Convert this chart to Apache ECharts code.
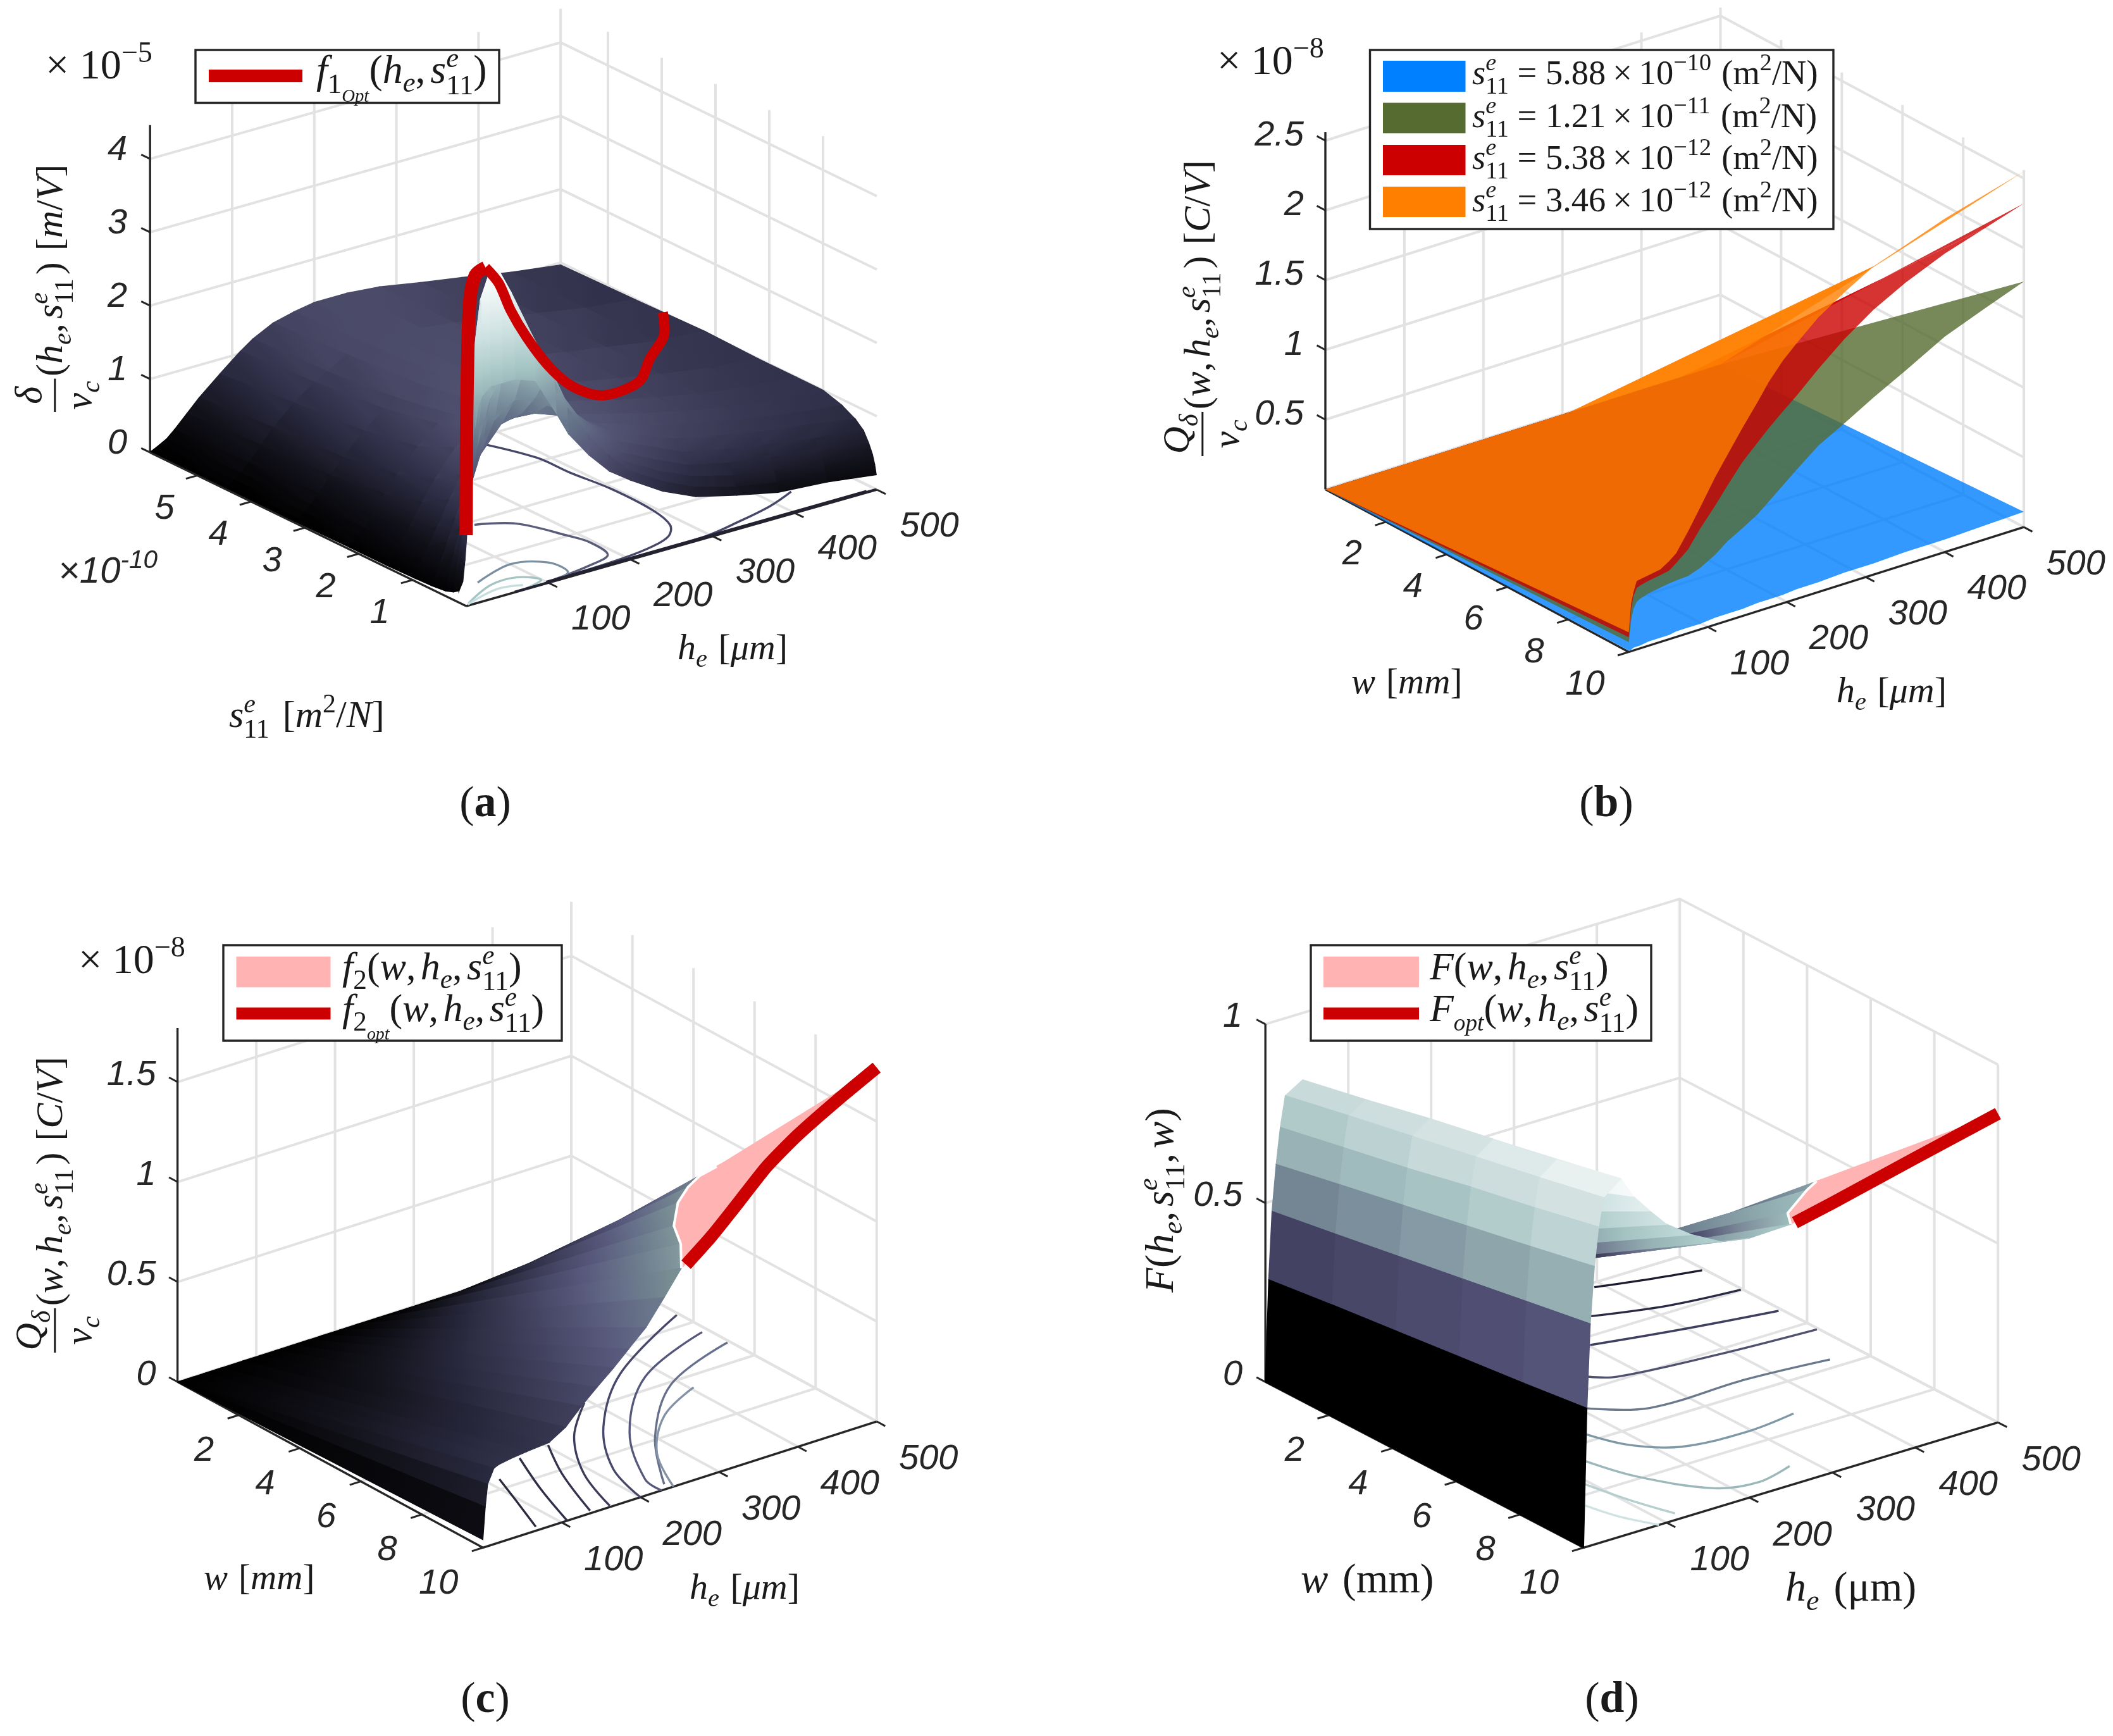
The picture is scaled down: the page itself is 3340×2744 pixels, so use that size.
<!DOCTYPE html>
<html><head><meta charset="utf-8">
<style>html,body{margin:0;padding:0;background:#fff}#c{width:3340px;height:2744px}</style>
<script src="https://cdn.jsdelivr.net/npm/echarts@6/dist/echarts.min.js"></script>
</head><body><div id="c"></div>
<script>
/* ---------- panel (a) values ---------- */
const aHeTicks=[100,200,300,400,500], aHeLabels=['100','200','300','400','500'];
const aSTicks=[1,2,3,4,5], aSLabels=['1','2','3','4','5'];
const aZTicks=[0,1,2,3,4], aZLabels=['0','1','2','3','4'];
const aHe=[1,5,12,20,30,45,60,85,110,125,150,175,200,240,280,330,380,440,500];
const aS=[5.88,4.5,3.2,2.2,1.5,1.0,0.65,0.4,0.25,0.15,0.08,0.04,0.01];
const aZ=[
[.01,.03,.07,.12,.22,.39,.56,.8,1.03,1.15,1.29,1.36,1.41,1.41,1.37,1.27,1.18,1.06,.97],
[.01,.03,.08,.15,.26,.45,.64,.9,1.1,1.2,1.35,1.41,1.43,1.42,1.37,1.27,1.18,1.06,.99],
[.01,.04,.1,.18,.3,.5,.7,.98,1.2,1.3,1.42,1.47,1.48,1.44,1.37,1.27,1.18,1.07,1.02],
[.02,.05,.13,.22,.36,.6,.82,1.12,1.35,1.44,1.55,1.57,1.55,1.48,1.38,1.27,1.17,1.06,1.0],
[.02,.07,.17,.3,.46,.74,1.0,1.35,1.55,1.62,1.68,1.65,1.6,1.5,1.38,1.26,1.15,1.05,1.0],
[.03,.1,.24,.4,.62,.95,1.25,1.62,1.8,1.82,1.8,1.72,1.62,1.5,1.38,1.25,1.14,1.04,1.0],
[.04,.15,.35,.58,.88,1.3,1.65,1.98,2.05,2.0,1.9,1.77,1.62,1.48,1.34,1.22,1.1,1.0,.92],
[.06,.25,.55,.9,1.35,1.85,2.2,2.4,2.35,2.2,2.0,1.8,1.6,1.42,1.25,1.13,1.02,.93,.82],
[.1,.4,.9,1.4,2.0,2.6,2.85,2.85,2.6,2.35,2.05,1.77,1.52,1.32,1.12,1.0,.9,.8,.72],
[.15,.7,1.5,2.3,3.0,3.4,3.5,3.2,2.75,2.4,2.0,1.68,1.4,1.18,.98,.85,.76,.66,.58],
[.3,1.4,2.7,3.6,4.3,4.4,4.05,3.4,2.8,2.4,1.95,1.6,1.3,1.05,.85,.7,.6,.5,.45],
[.6,2.0,3.4,4.1,4.4,4.2,3.8,3.3,2.7,2.3,1.85,1.5,1.2,.93,.72,.56,.46,.38,.33],
[.9,1.9,2.6,2.8,2.9,2.9,2.9,2.8,2.28,1.95,1.58,1.28,1.08,.8,.6,.46,.34,.29,.2]];
const aOptHe=[.5,1,2,6,15,28,46,62,84,125,170,215,260,310,360,420,470,500];
const aOptS=[.01,.015,.02,.03,.06,.07,.1,.12,.16,.4,.7,1,1.4,1.8,2.25,3,3.5,3.98];
const aOptZ=[.96,1.53,2.67,4.09,4.44,4.5,4.22,3.79,3.34,2.75,2.24,1.86,1.55,1.32,1.14,.97,.95,1.0];
const aContourHe=[[266,289,291,297,295,285,267,239,195,120],[431,392,342,296,200],[135,169,190,196,190,160,110],[46,100,132,132,104],[6,52,84,99,71],[4,51,77],[60,500],[100,490]];
const aContourS=[[3.9,3.11,2.52,1.83,1.03,.56,.31,.17,.08,.03],[.54,.335,.17,.05,.02],[1.91,1.65,.99,.69,.27,.14,.04],[.49,.71,.49,.125,.01],[.05,.34,.35,.12,.01],[.03,.2,.12],[.015,.015],[.04,.04]];
/* ---------- panel (b) values ---------- */
const bHeTicks=[100,200,300,400,500], bHeLabels=['100','200','300','400','500'];
const bWTicks=[2,4,6,8,10], bWLabels=['2','4','6','8','10'];
const bZTicks=[.5,1,1.5,2,2.5], bZLabels=['0.5','1','1.5','2','2.5'];
const bHe=[0,3,6,10,14,25,40,51,60,75,90,109,125,144,163,177,195,212,240,273,310,350,400,450,500];
const bBlue=[.01,.01,.02,.02,.02,.03,.03,.03,.04,.04,.04,.05,.05,.05,.06,.06,.06,.07,.07,.08,.08,.09,.09,.1,.11];
const bGreen=[.07,.22,.3,.34,.355,.375,.39,.4,.405,.41,.44,.5,.57,.63,.695,.76,.845,.925,1.05,1.151,1.27,1.39,1.545,1.655,1.76];
const bRed=[.105,.3,.39,.44,.45,.465,.48,.492,.53,.6,.72,.85,.97,1.105,1.21,1.286,1.375,1.455,1.6,1.755,1.9,2.02,2.14,2.23,2.32];
const bOrange=[.14,.34,.42,.49,.495,.505,.52,.56,.6,.73,.87,1.054,1.19,1.35,1.5,1.617,1.74,1.83,1.97,2.09,2.21,2.29,2.39,2.47,2.55];
/* ---------- panel (c) values ---------- */
const cHeTicks=[100,200,300,400,500], cHeLabels=['100','200','300','400','500'];
const cWTicks=[2,4,6,8,10], cWLabels=['2','4','6','8','10'];
const cZTicks=[0,.5,1,1.5], cZLabels=['0','0.5','1','1.5'];
const cHe=[0,3,6,14,20,34,55,84,105,125,145,166,185,207,230,252,290,320,360,400,450,500];
const cZ10=[.04,.2,.31,.38,.39,.40,.41,.42,.47,.55,.62,.69,.76,.84,.96,1.08,1.19,1.30,1.45,1.56,1.67,1.77];
const cEdgeW=[10,10,10,10,10,10,10,10,10,10,10,10,10,10,10,10,9,8,7.1,6.4,5.5,4.76];
const cEdgeZ=[.04,.2,.31,.38,.39,.40,.41,.42,.47,.55,.62,.69,.76,.84,.96,1.08,1.07,1.04,1.03,1.0,.92,.84];
const cOptHe=[258,290,320,360,400,450,500];
const cOptZ=[1.09,1.19,1.30,1.45,1.56,1.67,1.77];
const cContourHe=[[114,96,73],[161,132,107],[203,171,140],[294,236,189,163],[497,365,274,220,200],[492,381,287,230,227],[497,390,300,238],[404,339,278,242],[497,426]];
const cContourW=[[7.6,8.6,9.85],[7.05,8.5,10],[6.9,8.2,9.9],[5.74,6.9,8.44,9.95],[3.53,5.08,6.88,8.59,10],[4.49,5.49,7.4,9.38,10],[5.19,6.1,7.9,9.8],[6.48,7.2,8.53,10],[2.9,3.48]];
/* ---------- panel (d) values ---------- */
const dHeTicks=[100,200,300,400,500], dHeLabels=['100','200','300','400','500'];
const dWTicks=[2,4,6,8,10], dWLabels=['2','4','6','8','10'];
const dZTicks=[0,.5,1], dZLabels=['0','0.5','1'];
const dWallHe=[0,4,8,13,18,24,45];
const dWallW=[0,2,4,6,8,10];
const dWallZ=[
[0,.283,.471,.599,.699,.783,.813],
[0,.305,.50,.635,.735,.82,.85],
[0,.325,.53,.67,.77,.855,.89],
[0,.345,.56,.705,.81,.89,.925],
[0,.365,.59,.74,.845,.925,.96],
[0,.387,.62,.777,.884,.962,1.0]];
const dHe=[45,60,80,100,130,165,200,250,300,400,500];
const dZ0=[.81,.6,.42,.32,.25,.19,.15,.12,.10,.08,.07];
const dZ10=[1.0,.94,.885,.834,.784,.74,.725,.729,.753,.809,.863];
const dEdgeW=[10,10,10,10,10,10,10,10,8.6,6.6,4.3];
const dEdgeZ=[1.0,.94,.885,.834,.784,.74,.725,.729,.66,.562,.41];
const dOptHe=[255,300,400,500];
const dOptZ=[.73,.753,.809,.863];
const dContourHe=[[390,444,497],[345,420,498],[302,395,496],[254,276,381,498],[206,255,371,464],[168,186,223,294,357],[128,145,187,230,277],[94,105,120],[63,72,91]];
const dContourW=[[.18,.51,.78],[1.25,1.74,1.97],[2.34,2.8,3.21],[3.52,3.86,4.17,4.36],[4.7,5.43,5.45,5.66],[5.7,6.62,7.28,7.46,7.3],[6.7,7.9,9.24,9.52,9.26],[7.6,8.73,9.75],[8.41,9.18,10]];

/* ---------- styles ---------- */
const aColours=[[0,'#000000'],[.4,'#101018'],[.96,'#30304a'],[1.4,'#4a4a68'],[1.7,'#585b7a'],[2.1,'#66758a'],[2.5,'#7f96a2'],[3.0,'#a5c4c4'],[3.6,'#cfe2e2'],[4.4,'#ffffff']];
const cColours=[[0,'#000000'],[.15,'#0f0f16'],[.35,'#2a2a40'],[.55,'#444462'],[.7,'#56567a'],[.85,'#66708a'],[1,'#75898f'],[1.1,'#87a0a3']];
const dColours=[[0,'#000000'],[.1,'#1a1a28'],[.25,'#3a3855'],[.38,'#55557a'],[.47,'#6f7f90'],[.6,'#95aeb2'],[.7,'#aac6c6'],[.78,'#c5d8d8'],[.88,'#d5e3e3'],[.96,'#eef4f4'],[1,'#ffffff']];
const dSheetColours=[[0,'#000000'],[.40,'#0a0a10'],[.46,'#2a2a40'],[.52,'#55507a'],[.6,'#7c8c9a'],[.68,'#9ab8b8'],[.76,'#aecdcc'],[.86,'#cfe2e2'],[1,'#ffffff']];
const dFarColours=[[0,'#3d3d5a'],[.2,'#50527a'],[.35,'#6a7a8c'],[.5,'#8aa3aa'],[.65,'#9fbfbf'],[.8,'#a8c8c8']];
const aContourColours=['#47476a','#47476a','#5a5d7a','#7c8fa0','#a5c4c4','#c8dede','#222230','#222230'];
const cContourColours=['#2b2b40','#2f2f48','#33334e','#3d3d5a','#47476a','#55587a','#66708a','#8393a5','#47476a'];
const dContourColours=['#1c1c30','#2a2a45','#3f3f60','#50506f','#6a7a8c','#7f98a5','#9cb8bb','#b5cfcf','#d0e2e2'];
const GRID='#e2e2e2', AXIS='#262626', RED='#cc0000', PINK='#ffb3b3';

/* ---------- orthographic views of the four boxes ---------- */
const views=[
 {ox:737,oy:958,hx:1.298,hy:-.368,bx:-85.0,by:-41.3,zy:-116,heMax:500,bBack:5.88,bFront:0,zTop:4.46},
 {ox:2095,oy:773.5,hx:1.249,hy:-.3947,bx:47.96,by:25.7,zy:-220.5,heMax:500,bBack:0,bFront:10,zTop:2.56},
 {ox:280.6,oy:2184.3,hx:1.245,hy:-.399,bx:48.27,by:26.2,zy:-316,heMax:500,bBack:0,bFront:10,zTop:1.77},
 {ox:2000.2,oy:2184.3,hx:1.310,hy:-.396,bx:50.3,by:26.2,zy:-565.5,heMax:500,bBack:0,bFront:10,zTop:1.0}
];
const proj=(v,q)=>[v.ox+v.hx*q[0]+v.bx*q[1], v.oy+v.hy*q[0]+v.by*q[1]+v.zy*q[2]];
const quad=[[0,1670,0,1372],[1670,3340,0,1372],[0,1670,1372,2744],[1670,3340,1372,2744]];

function hex(c){return [parseInt(c.slice(1,3),16),parseInt(c.slice(3,5),16),parseInt(c.slice(5,7),16)];}
function cmap(st,z){
  if(z<=st[0][0])return st[0][1];
  for(let i=1;i<st.length;i++){ if(z<=st[i][0]){
    const t=(z-st[i-1][0])/(st[i][0]-st[i-1][0]),a=hex(st[i-1][1]),b=hex(st[i][1]);
    return 'rgb('+a.map((v,k)=>Math.round(v+(b[k]-v)*t)).join(',')+')';}}
  return st[st.length-1][1];
}
function gradient(p0,p1,z0,z1,st){
  const n=6,stops=[];
  for(let k=0;k<=n;k++)stops.push({offset:k/n,color:cmap(st,z0+(z1-z0)*k/n)});
  return new echarts.graphic.LinearGradient(p0[0],p0[1],p1[0]+.01,p1[1]+.01,stops,true);
}
const mean=(pts,ix)=>[ix.reduce((s,i)=>s+pts[i][0],0)/ix.length, ix.reduce((s,i)=>s+pts[i][1],0)/ix.length];

function draw(it,api){
  const pts=it.pts.map(q=>api.coord(proj(it.v,q)));
  if(it.kind==='text'){
    return {type:'text',x:pts[0][0]+it.dx,y:pts[0][1]+it.dy,style:{text:it.text,font:'italic 56px "Liberation Sans"',fill:AXIS,
      align:it.align,textAlign:it.align,verticalAlign:'middle',textVerticalAlign:'middle'}};
  }
  if(it.kind==='line'){
    return {type:'polyline',shape:{points:pts,smooth:it.smooth||0},style:{stroke:it.color,lineWidth:it.width,fill:null,lineJoin:it.join||'round',lineCap:it.cap||'butt'}};
  }
  if(it.kind==='path'){
    let d='';
    for(let i=0;i<pts.length;i+=4){
      d+='M'+pts[i][0].toFixed(1)+' '+pts[i][1].toFixed(1);
      for(let k=1;k<4;k++)d+='L'+pts[i+k][0].toFixed(1)+' '+pts[i+k][1].toFixed(1);
      d+='Z';
    }
    return {type:'path',shape:{pathData:d},style:{fill:it.color}};
  }
  let fill=it.color;
  if(it.grad)fill=gradient(mean(pts,it.grad.from),mean(pts,it.grad.to),it.grad.z0,it.grad.z1,it.grad.st);
  return {type:'polygon',shape:{points:pts},style:{fill:fill,stroke:fill,lineWidth:1.4}};
}
function layer(i,items){
  const v=views[i];
  items.forEach(it=>it.v=v);
  return {type:'custom',coordinateSystem:'cartesian2d',xAxisIndex:i,yAxisIndex:i,silent:true,animation:false,clip:false,
    progressive:0,
    data:items.map(it=>proj(v,it.pts[0])),encode:{x:0,y:1},
    renderItem:(p,api)=>draw(items[p.dataIndex],api)};
}
function frame(i,heT,bT,zT){
  const v=views[i],H=v.heMax,B=v.bBack,F=v.bFront,T=v.zTop,out=[];
  const g=(pts)=>out.push({kind:'line',pts,color:GRID,width:4,join:'miter'});
  const k=(pts,w)=>out.push({kind:'line',pts,color:AXIS,width:w||3.4,join:'miter'});
  zT.forEach(z=>g([[0,B,z],[H,B,z],[H,F,z]]));
  g([[0,B,0],[H,B,0],[H,F,0]]);
  heT.forEach(h=>{g([[h,B,0],[h,B,T]]);g([[h,B,0],[h,F,0]]);});
  bT.forEach(b=>{g([[H,b,0],[H,b,T]]);g([[0,b,0],[H,b,0]]);});
  k([[0,B,0],[0,B,T]]);
  k([[0,B,0],[0,F,0]]);
  k([[0,F,0],[H,F,0]]);
  const over=(F-B)*.028;
  heT.forEach(h=>k([[h,F,0],[h,F+over,0]],3));
  bT.forEach(b=>k([[0,b,0],[-H*.028,b,0]],3));
  zT.forEach(z=>k([[0,B,z],[0,B-over,z]],3));
  return out;
}
function ticks(i,heT,heL,heOff,bT,bL,bOff,zT,zL,zOff){
  const v=views[i],out=[];
  heT.forEach((h,n)=>out.push({kind:'text',pts:[[h,v.bFront,0]],text:heL[n],dx:heOff[0],dy:heOff[1],align:'center'}));
  bT.forEach((b,n)=>out.push({kind:'text',pts:[[0,b,0]],text:bL[n],dx:bOff[0],dy:bOff[1],align:bOff[2]}));
  zT.forEach((z,n)=>out.push({kind:'text',pts:[[0,v.bBack,z]],text:zL[n],dx:zOff[0],dy:zOff[1],align:'right'}));
  return out;
}
function contours(He,B,Cols,w){
  return He.map((h,n)=>({kind:'line',pts:h.map((x,k)=>[x,B[n][k],0]),color:Cols[n],width:w,smooth:.35}));
}
function aSurface(){
  const out=[];
  for(let r=0;r<aS.length-1;r++)for(let c=aHe.length-2;c>=0;c--){
    const z=[aZ[r][c],aZ[r][c+1],aZ[r+1][c+1],aZ[r+1][c]];
    const pts=[[aHe[c],aS[r],z[0]],[aHe[c+1],aS[r],z[1]],[aHe[c+1],aS[r+1],z[2]],[aHe[c],aS[r+1],z[3]]];
    const dH=Math.abs(z[1]+z[2]-z[0]-z[3]),dS=Math.abs(z[3]+z[2]-z[0]-z[1]);
    const grad=dH>=dS?{from:[0,3],to:[1,2],z0:(z[0]+z[3])/2,z1:(z[1]+z[2])/2,st:aColours}
                     :{from:[0,1],to:[3,2],z0:(z[0]+z[1])/2,z1:(z[2]+z[3])/2,st:aColours};
    out.push({kind:'poly',pts,grad});
  }
  return out;
}
function bSurface(v,profile,colour){
  const groups=[[],[]];
  for(let i=0;i<bHe.length-1;i++){
    const ring=[[bHe[i],0,0],[bHe[i+1],0,0],[bHe[i+1],10,profile[i+1]],[bHe[i],10,profile[i]]];
    const p=ring.map(q=>proj(v,q));
    let a=0;for(let k=0;k<4;k++){const n=(k+1)%4;a+=p[k][0]*p[n][1]-p[n][0]*p[k][1];}
    groups[a>0?0:1].push(...ring);
  }
  return groups.filter(g=>g.length).map(g=>({kind:'path',pts:g,color:colour}));
}
function hingeSurface(He,Z0,EdgeW,EdgeZ,Z10,St,FarSt,farFrom){
  const out=[];
  for(let i=He.length-2;i>=0;i--){
    const z0=(Z0[i]+Z0[i+1])/2,z1=(EdgeZ[i]+EdgeZ[i+1])/2;
    const st=(FarSt&&He[i]>=farFrom)?FarSt:St;
    out.push({kind:'poly',pts:[[He[i],0,Z0[i]],[He[i+1],0,Z0[i+1]],[He[i+1],EdgeW[i+1],EdgeZ[i+1]],[He[i],EdgeW[i],EdgeZ[i]]],
      grad:{from:[0,1],to:[3,2],z0,z1,st}});
    if(EdgeW[i]<10||EdgeW[i+1]<10){
      out.push({kind:'poly',pts:[[He[i],EdgeW[i],EdgeZ[i]],[He[i+1],EdgeW[i+1],EdgeZ[i+1]],[He[i+1],10,Z10[i+1]],[He[i],10,Z10[i]]],color:PINK});
    }
  }
  return out;
}
function edgeLine(He,EdgeW,EdgeZ){
  const pts=[];He.forEach((h,i)=>{if(EdgeW[i]<10||(EdgeW[i+1]!==undefined&&EdgeW[i+1]<10))pts.push([h,EdgeW[i],EdgeZ[i]]);});
  return {kind:'line',pts,color:'#ffffff',width:4};
}
function dWall(){
  const out=[];
  for(let c=dWallHe.length-2;c>=0;c--)for(let r=0;r<dWallW.length-1;r++){
    const z=[dWallZ[r][c],dWallZ[r][c+1],dWallZ[r+1][c+1],dWallZ[r+1][c]];
    out.push({kind:'poly',pts:[[dWallHe[c],dWallW[r],z[0]],[dWallHe[c+1],dWallW[r],z[1]],[dWallHe[c+1],dWallW[r+1],z[2]],[dWallHe[c],dWallW[r+1],z[3]]],
      color:cmap(dColours,(z[0]+z[3])/2)});
  }
  return out;
}
const zeros=n=>new Array(n).fill(0);

/* ---------- math text ---------- */
const mctx=document.createElement('canvas').getContext('2d');
const SERIF='"Liberation Serif"';
const i_=(t,o)=>Object.assign({t,st:'i'},o||{});
const r_=(t,o)=>Object.assign({t,st:'r'},o||{});
const sb=(t,st)=>({t,st:st||'i',k:.7,dy:.2});
const sp=(t,st)=>({t,st:st||'r',k:.7,dy:-.42});
const gap=g=>({gap:g});
const s11=()=>[i_('s'),{stack:['e','11']}];
function build(segs,size,baseY,color,font){
  const kids=[];let cx=0;
  const put=(t,st,sz,x,by)=>{
    const f=(st==='i'?'italic ':st==='b'?'bold ':'')+sz+'px '+(font||SERIF);
    kids.push({type:'text',x:x,y:by-.34*sz,z:60,silent:true,style:{text:t,font:f,fill:color||'#1a1a1a',align:'left',textAlign:'left',verticalAlign:'middle',textVerticalAlign:'middle'}});
    mctx.font=f;return mctx.measureText(t).width;
  };
  segs.flat().forEach(s=>{
    if(s.gap!==undefined){cx+=s.gap*size;return;}
    if(s.stack){
      const a=put(s.stack[0],'i',size*.7,cx,baseY-.42*size);
      const b=put(s.stack[1],'r',size*.7,cx,baseY+.25*size);
      cx+=Math.max(a,b);return;
    }
    if(s.frac){
      const n=build(s.frac[0],size,baseY-.55*size,color,font),d=build(s.frac[1],size,baseY+.76*size,color,font);
      const w=Math.max(n.width,d.width)+.12*size;
      n.kids.forEach(e=>{e.x+=cx+(w-n.width)/2;kids.push(e);});
      d.kids.forEach(e=>{e.x+=cx+(w-d.width)/2;kids.push(e);});
      kids.push({type:'rect',z:60,silent:true,shape:{x:cx,y:baseY-.27*size-1.5,width:w,height:3},style:{fill:color||'#1a1a1a'}});
      cx+=w+.06*size;return;
    }
    const sz=size*(s.k||1);
    cx+=put(s.t,s.st,sz,cx,baseY+(s.dy||0)*size);
  });
  return {kids,width:cx};
}
function mtext(x,y,segs,size,opt){
  opt=opt||{};
  const b=build(segs,size,0,opt.color,opt.font);
  const off=opt.center?-b.width/2:0;
  b.kids.forEach(e=>{e.x+=off;});
  return {type:'group',x,y,rotation:opt.rot||0,children:b.kids,silent:true};
}
const UP=Math.PI/2;
const rect=(x,y,w,h,fill,stroke)=>({type:'rect',z:58,silent:true,shape:{x,y,width:w,height:h},style:{fill,stroke:stroke||null,lineWidth:stroke?3.4:0}});
const he=()=>[i_('h'),sb('e')];
const comma=()=>[r_(','),gap(.12)];
const MUL=66,AX=58,YL=60,LG=63;

const graphics=[
  /* multipliers */
  mtext(72,129,[r_('×'),gap(.25),r_('10'),sp('−5')],MUL),
  mtext(1924,122,[r_('×'),gap(.25),r_('10'),sp('−8')],MUL),
  mtext(124,1543,[r_('×'),gap(.25),r_('10'),sp('−8')],MUL),
  mtext(92,925,[i_('×10'),sp('-10','i')],58,{font:'"Liberation Sans"',color:'#262626'}),
  /* panel a */
  rect(309,79,480,83.5,'#ffffff',AXIS),
  rect(330,110,148,20,RED),
  mtext(500,136,[i_('f'),{t:'1',st:'r',k:.7,dy:.22},{t:'Opt',st:'i',k:.45,dy:.42},r_('('),he(),comma(),s11(),r_(')')],LG+1),
  mtext(1071,1046,[he(),gap(.3),r_('['),i_('μm'),r_(']')],AX),
  mtext(362,1154,[s11(),gap(.35),r_('['),i_('m'),sp('2'),r_('/'),i_('N'),r_(']')],AX+2),
  mtext(103,651,[{frac:[[i_('δ')],[i_('v'),sb('c')]]},r_('('),he(),comma(),s11(),gap(.1),r_(')'),gap(.3),r_('['),i_('m'),r_('/'),i_('V'),r_(']')],YL,{rot:UP}),
  /* panel b */
  rect(2165.5,79,732.5,283,'#ffffff',AXIS),
  rect(2186,96,130.5,49,'#0080ff'),
  rect(2186,162.5,130.5,48,'#556b2f'),
  rect(2186,229,130.5,48,RED),
  rect(2186,295,130.5,48,'#ff8000'),
  ...[['5.88','−10',137],['1.21','−11',205],['5.38','−12',271],['3.46','−12',338]].map(a=>
    mtext(2327,a[2],[s11(),gap(.25),r_('='),gap(.25),r_(a[0]),gap(.2),r_('×'),gap(.2),r_('10'),sp(a[1]),gap(.3),r_('(m'),sp('2'),r_('/N)')],54.5)),
  mtext(2903,1114,[he(),gap(.3),r_('['),i_('μm'),r_(']')],AX),
  mtext(2136,1100,[i_('w'),gap(.3),r_('['),i_('mm'),r_(']')],AX-1),
  mtext(1917,721,[{frac:[[i_('Q'),sb('δ')],[i_('v'),sb('c')]]},r_('('),i_('w'),comma(),he(),comma(),s11(),gap(.1),r_(')'),gap(.3),r_('['),i_('C'),r_('/'),i_('V'),r_(']')],YL,{rot:UP}),
  /* panel c */
  rect(353,1494,535,151,'#ffffff',AXIS),
  rect(373.5,1512,149,48.6,PINK),
  rect(373.5,1592.5,149,19,RED),
  mtext(541,1553,[i_('f'),{t:'2',st:'r',k:.7,dy:.22},r_('('),i_('w'),comma(),he(),comma(),s11(),r_(')')],LG-1),
  mtext(541,1619,[i_('f'),{t:'2',st:'r',k:.7,dy:.22},{t:'opt',st:'i',k:.45,dy:.42},r_('('),i_('w'),comma(),he(),comma(),s11(),r_(')')],LG-1),
  mtext(1090,2531,[he(),gap(.3),r_('['),i_('μm'),r_(']')],AX),
  mtext(322,2516,[i_('w'),gap(.3),r_('['),i_('mm'),r_(']')],AX-1),
  mtext(103,2138,[{frac:[[i_('Q'),sb('δ')],[i_('v'),sb('c')]]},r_('('),i_('w'),comma(),he(),comma(),s11(),gap(.1),r_(')'),gap(.3),r_('['),i_('C'),r_('/'),i_('V'),r_(']')],YL,{rot:UP}),
  /* panel d */
  rect(2072,1494,538,151,'#ffffff',AXIS),
  rect(2092,1512,151,48.6,PINK),
  rect(2092,1592.5,151,19,RED),
  mtext(2260,1553,[i_('F'),r_('('),i_('w'),comma(),he(),comma(),s11(),r_(')')],LG-1),
  mtext(2260,1619,[i_('F'),{t:'opt',st:'i',k:.6,dy:.2},r_('('),i_('w'),comma(),he(),comma(),s11(),r_(')')],LG-1),
  mtext(2822,2535,[i_('h'),sb('e'),gap(.35),r_('(μm)')],66),
  mtext(2056,2522,[i_('w'),gap(.35),r_('(mm)')],65),
  mtext(1859,2043,[i_('F'),r_('('),he(),comma(),s11(),comma(),i_('w'),r_(')')],64,{rot:UP}),
  /* captions */
  ...[['a',767,1296],['b',2539,1296],['c',767,2712],['d',2548,2712]].map(c=>
    mtext(c[1],c[2],[r_('('),{t:c[0],st:'b'},r_(')')],70,{center:true})),
];

const series=[
  layer(0,frame(0,aHeTicks,aSTicks,aZTicks)),
  layer(0,contours(aContourHe,aContourS,aContourColours,3.4)),
  layer(0,aSurface()),
  layer(0,[{kind:'line',pts:aOptHe.slice(0,6).map((h,i)=>[h,aOptS[i],aOptZ[i]]),color:RED,width:21,smooth:.3}]),
  layer(0,[{kind:'line',pts:aOptHe.slice(5).map((h,i)=>[h,aOptS[i+5],aOptZ[i+5]]),color:RED,width:16,smooth:.3}]),
  layer(0,ticks(0,aHeTicks,aHeLabels,[83,58],aSTicks,aSLabels,[-52,53,'center'],aZTicks,aZLabels,[-36,-14])),

  layer(1,frame(1,bHeTicks,bWTicks,bZTicks)),
  ...[[bBlue,'rgba(0,128,255,.8)'],[bGreen,'rgba(85,107,47,.8)'],[bRed,'rgba(204,0,0,.8)'],[bOrange,'rgba(255,128,0,.8)']]
     .map(s=>layer(1,bSurface(views[1],s[0],s[1]))),
  layer(1,ticks(1,bHeTicks,bHeLabels,[82,59],bWTicks,bWLabels,[-38,52,'right'],bZTicks,bZLabels,[-34,-8])),

  layer(2,frame(2,cHeTicks,cWTicks,cZTicks)),
  layer(2,contours(cContourHe,cContourW,cContourColours,3.4)),
  layer(2,hingeSurface(cHe,zeros(cHe.length),cEdgeW,cEdgeZ,cZ10,cColours)),
  layer(2,[edgeLine(cHe,cEdgeW,cEdgeZ)]),
  layer(2,[{kind:'line',pts:cOptHe.map((h,i)=>[h,10,cOptZ[i]]),color:RED,width:20,smooth:.2}]),
  layer(2,ticks(2,cHeTicks,cHeLabels,[82,60],cWTicks,cWLabels,[-39,57,'right'],cZTicks,cZLabels,[-34,-11])),

  layer(3,frame(3,dHeTicks,dWTicks,dZTicks)),
  layer(3,contours(dContourHe,dContourW,dContourColours,3.4)),
  layer(3,hingeSurface(dHe,dZ0,dEdgeW,dEdgeZ,dZ10,dSheetColours,dFarColours,300)),
  layer(3,[edgeLine(dHe,dEdgeW,dEdgeZ)]),
  layer(3,dWall()),
  layer(3,[{kind:'line',pts:dOptHe.map((h,i)=>[h,10,dOptZ[i]]),color:RED,width:20}]),
  layer(3,ticks(3,dHeTicks,dHeLabels,[84,60],dWTicks,dWLabels,[-39,57,'right'],dZTicks,dZLabels,[-36,-11])),
];

const chart=echarts.init(document.getElementById('c'),null,{renderer:'canvas',width:3340,height:2744});
chart.setOption({
  animation:false,backgroundColor:'#ffffff',
  grid:quad.map(q=>({left:q[0],top:q[2],width:q[1]-q[0],height:q[3]-q[2],containLabel:false})),
  xAxis:quad.map((q,i)=>({type:'value',gridIndex:i,min:q[0],max:q[1],show:false})),
  yAxis:quad.map((q,i)=>({type:'value',gridIndex:i,min:q[2],max:q[3],inverse:true,show:false})),
  series:series,
  graphic:{elements:graphics}
});
</script></body></html>
